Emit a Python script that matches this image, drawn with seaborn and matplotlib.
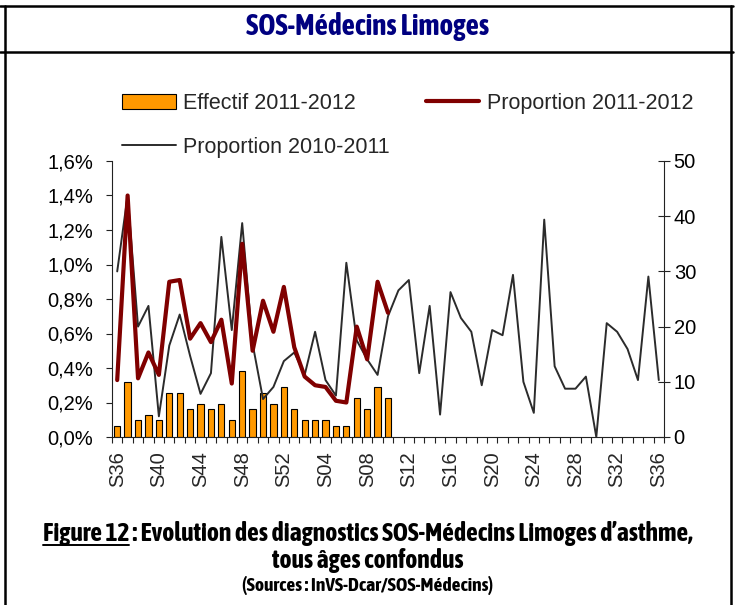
import numpy as np
import matplotlib.pyplot as plt
import seaborn as sns
from matplotlib import font_manager
from matplotlib.font_manager import FontProperties
import matplotlib.patheffects as pe
from matplotlib.lines import Line2D
from matplotlib.patches import Patch
from matplotlib.ticker import FuncFormatter

# semaines S36 (2010/2011) -> S36 de l'année suivante
weeks = [f"S{w:02d}" for w in list(range(36, 53)) + list(range(1, 37))]

# effectif hebdo 2011-2012 (axe droit)
effectif_1112 = [2, 10, 3, 4, 3, 8, 8, 5, 6, 5, 6, 3, 12, 5, 8, 6, 9,
                 5, 3, 3, 3, 2, 2, 7, 5, 9, 7]

# proportions en %
prop_1112 = [0.33, 1.40, 0.34, 0.49, 0.36, 0.90, 0.91, 0.57, 0.66, 0.55, 0.68,
             0.31, 1.12, 0.50, 0.79, 0.61, 0.87, 0.52, 0.35, 0.30, 0.29, 0.21,
             0.20, 0.64, 0.45, 0.90, 0.72]

prop_1011 = [0.96, 1.40, 0.64, 0.76, 0.12, 0.53, 0.71, 0.47, 0.25, 0.37, 1.16,
             0.62, 1.24, 0.54, 0.22, 0.29, 0.44, 0.49, 0.36, 0.61, 0.33, 0.24,
             1.01, 0.56, 0.45, 0.36, 0.70, 0.85, 0.91, 0.37, 0.76, 0.13, 0.84,
             0.69, 0.61, 0.30, 0.62, 0.59, 0.94, 0.32, 0.14, 1.26, 0.41, 0.28,
             0.28, 0.35, 0.0, 0.66, 0.61, 0.51, 0.33, 0.93, 0.33]

sns.set_style("white")
plt.rcParams['font.family'] = ['Liberation Sans', 'DejaVu Sans']


# police étroite et grasse pour le titre et la légende de figure
def wnum(w):
    if isinstance(w, str):
        return {'bold': 700, 'heavy': 800, 'black': 900, 'semibold': 600,
                'demibold': 600}.get(w, 400)
    return int(w)


fonts = font_manager.fontManager.ttflist
by_name = [f for f in fonts if ('Narrow' in f.name or 'Condensed' in f.name)
           and f.style == 'normal']
by_stretch = [f for f in fonts if f.stretch in ('condensed', 'semi-condensed')
              and f.style == 'normal']
fake_bold = False
pick = None
for group in (by_name, by_stretch):
    b = sorted([f for f in group if wnum(f.weight) >= 600],
               key=lambda f: abs(wnum(f.weight) - 700))
    if b:
        pick = b[0]
        break
if pick is None and (by_name or by_stretch):
    reg = sorted(by_name + by_stretch, key=lambda f: abs(wnum(f.weight) - 700))
    pick = reg[0]
    fake_bold = True
if pick is not None:
    narrow_fp = FontProperties(fname=pick.fname)
else:
    narrow_fp = FontProperties(family=['Roboto', 'DejaVu Sans'], weight='bold')


def heavy(color):
    if fake_bold:
        return [pe.withStroke(linewidth=1.1, foreground=color)]
    return None


W, H = 737, 605
fig = plt.figure(figsize=(W / 100, H / 100), dpi=100)


def fx(px):
    return px / W


def fy(py):
    return 1 - py / H


ax = fig.add_axes([fx(112), fy(437), fx(664) - fx(112), fy(161) - fy(437)])
ax2 = ax.twinx()

x = np.arange(len(weeks))
sns.barplot(x=x[:len(effectif_1112)], y=effectif_1112, ax=ax2, native_scale=True,
            width=0.6, color='#FF9900', saturation=1, edgecolor='black', linewidth=0.8)
sns.lineplot(x=x, y=prop_1011, ax=ax, color='#2b2b2b', linewidth=1.4)
sns.lineplot(x=x[:len(prop_1112)], y=prop_1112, ax=ax, color='#800000', linewidth=3)

ax.set_zorder(ax2.get_zorder() + 1)
ax.patch.set_visible(False)

ax.set_xlim(-0.5, len(weeks) - 0.5)
ax.set_ylim(0, 1.6)
ax2.set_ylim(0, 50)
ax.set_yticks(np.arange(0, 1.61, 0.2))
ax.yaxis.set_major_formatter(FuncFormatter(lambda v, p: f"{v:.1f}%".replace('.', ',')))
ax2.set_yticks(range(0, 51, 10))
ax.set_xticks(x[::4])
ax.set_xticklabels(weeks[::4], rotation=90)
ax.set_xticks(np.arange(-0.5, len(weeks), 1), minor=True)
ax.set_xlabel('')
ax.set_ylabel('')
ax2.set_ylabel('')

for s in ['top', 'right']:
    ax.spines[s].set_visible(False)
for s in ['top', 'left', 'bottom']:
    ax2.spines[s].set_visible(False)
for a in (ax, ax2):
    for s in a.spines.values():
        s.set_color('#222222')
        s.set_linewidth(0.8)

ax.tick_params(axis='y', left=True, direction='out', length=4.5, width=0.8,
               color='#222222', pad=9, labelsize=14.5, labelcolor='black')
ax.tick_params(axis='x', which='major', bottom=True, length=0, pad=10, labelsize=14.5)
ax.tick_params(axis='x', which='minor', bottom=True, direction='out', length=4.5,
               width=0.8, color='#222222')
ax2.tick_params(axis='y', right=True, left=False, direction='inout', length=8,
                width=0.8, color='#222222', pad=3, labelsize=14.5, labelcolor='black')

handles = [Patch(facecolor='#FF9900', edgecolor='black', linewidth=0.8),
           Line2D([], [], color='#2b2b2b', linewidth=1.4),
           Line2D([], [], color='#800000', linewidth=3)]
labels = ['Effectif 2011-2012', 'Proportion 2010-2011', 'Proportion 2011-2012']
fig.legend(handles, labels, loc='upper left', bbox_to_anchor=(fx(122), fy(93)),
           ncol=2, frameon=False, borderpad=0, borderaxespad=0, handlelength=2.5,
           handletextpad=0.35, columnspacing=1.65, labelspacing=1.05, fontsize=15.5)

# cadre
frame = dict(transform=fig.transFigure, color='black', linewidth=1.8)
fig.add_artist(Line2D([fx(0), fx(733)], [fy(6), fy(6)], **frame))
fig.add_artist(Line2D([fx(0), fx(733)], [fy(52), fy(52)], **frame))
fig.add_artist(Line2D([fx(5), fx(5)], [fy(6), fy(605)], **frame))
fig.add_artist(Line2D([fx(731), fx(731)], [fy(6), fy(605)], **frame))

r = fig.canvas.get_renderer()


def ntext(xp, yp, s, size, color='black', ha='left'):
    t = fig.text(fx(xp), fy(yp), s, ha=ha, va='baseline', color=color,
                 fontproperties=narrow_fp, path_effects=heavy(color))
    t.set_fontsize(size)
    return t


def fit(t, target, max_size):
    # largeur visée, sans dépasser la hauteur de la référence
    w = t.get_window_extent(r).width
    size = min(t.get_fontsize() * target / w, max_size)
    t.set_fontsize(size)
    return size


title = ntext(368, 35, 'SOS-Médecins Limoges', 18, color='#000080', ha='center')
fit(title, 246, 21)

t1 = ntext(0, 541, 'Figure 12', 16)
t2 = ntext(0, 541, ' : Evolution des diagnostics SOS-Médecins Limoges d’asthme,', 16)
w1 = t1.get_window_extent(r).width
w2 = t2.get_window_extent(r).width
size1 = min(16 * 696 / (w1 + w2), 18.5)
t1.set_fontsize(size1)
t2.set_fontsize(size1)
w1 = t1.get_window_extent(r).width
w2 = t2.get_window_extent(r).width
x0 = 368 - (w1 + w2) / 2
t1.set_x(fx(x0))
t2.set_x(fx(x0 + w1))
fig.add_artist(Line2D([fx(x0), fx(x0 + w1)], [fy(545), fy(545)],
                      transform=fig.transFigure, color='black', linewidth=1.4))

ntext(368, 568, 'tous âges confondus', size1, ha='center')
src = ntext(368, 591, '(Sources : InVS-Dcar/SOS-Médecins)', 12, ha='center')
fit(src, 313, 14)

fig.savefig('out.png', dpi=100)
